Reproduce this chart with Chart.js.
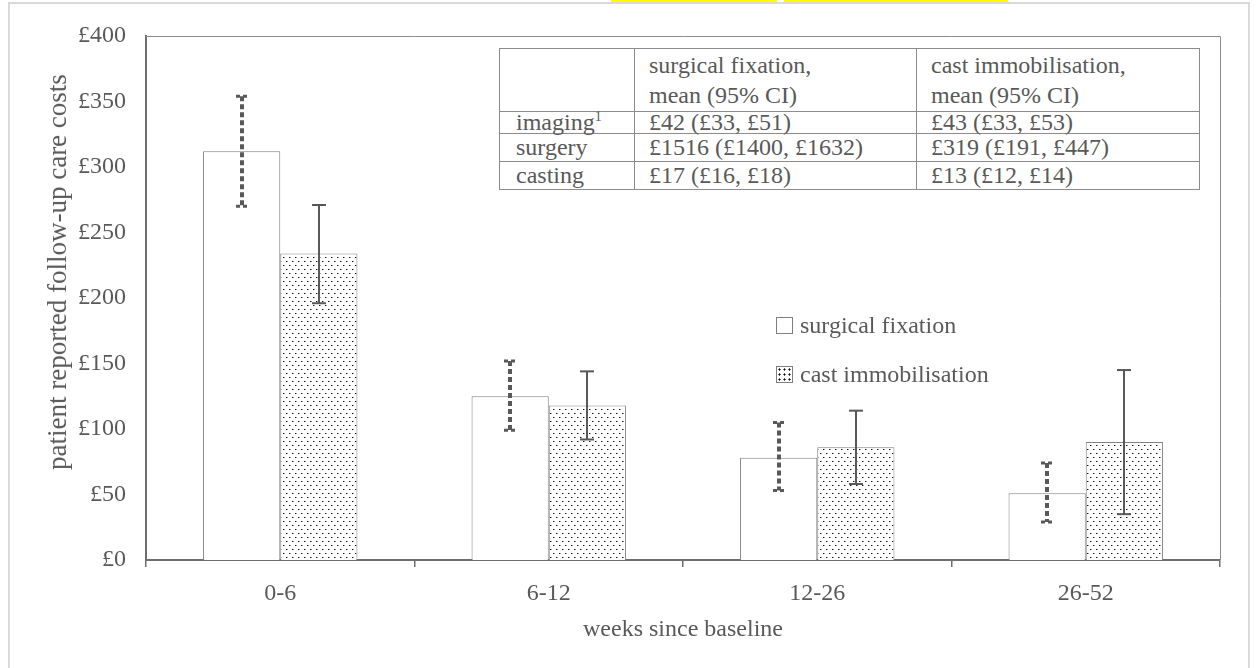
<!DOCTYPE html>
<html>
<head>
<meta charset="utf-8">
<script src="https://cdn.jsdelivr.net/npm/chart.js@4.4.0/dist/chart.umd.min.js"></script>
<style>
  body { margin: 0; width: 1258px; height: 668px; overflow: hidden; position: relative; background: #fff;
         font-family: "Liberation Serif", "Times New Roman", serif; color: #595959; }
  #frame { position: absolute; left: 8px; top: 2px; width: 1242px; height: 720px; border: 2px solid #d9d9d9; box-sizing: border-box; }
  .hl { position: absolute; top: 0; height: 2px; background: #ffff00; }
  #chart { position: absolute; left: 0; top: 0; }
  #ytitle { position: absolute; left: 57px; top: 272px; font-size: 27px; line-height: 30px; white-space: nowrap;
            transform: translate(-50%, -50%) rotate(-90deg); }
  table.costs { position: absolute; left: 499px; top: 48px; border-collapse: collapse; table-layout: fixed;
                font-size: 24px; color: #595959; background: #fff; }
  table.costs td { border: 1.5px solid #8c8c8c; padding: 0 0 0 14px; white-space: nowrap; vertical-align: middle; }
  table.costs td:first-child { padding-left: 16px; }
  table.costs tr.head td { height: 62px; line-height: 30px; padding-top: 0; }
  table.costs tr.r1 td { height: 21px; line-height: 21px; }
  table.costs tr.r2 td, table.costs tr.r3 td { height: 27px; line-height: 27px; }
  sup { font-size: 14px; line-height: 0; vertical-align: 9px; }
  .legend { position: absolute; left: 776px; font-size: 24px; line-height: 28px; white-space: nowrap; }
  .legend span.box { display: inline-block; width: 15px; height: 15px; border: 1px solid #7f7f7f; margin-right: 7px; vertical-align: -1px; background: #fff; }
  .legend span.dots { background-image: radial-gradient(circle, #111 0.9px, transparent 1.2px); background-size: 5px 5px; background-position: 0 0; }
</style>
</head>
<body>
<div class="hl" style="left:611px;width:166px"></div>
<div class="hl" style="left:784px;width:224px"></div>
<div id="frame"></div>
<canvas id="chart" width="1258" height="668"></canvas>
<div id="ytitle">patient reported follow-up care costs</div>

<table class="costs">
  <colgroup><col style="width:135px"><col style="width:282px"><col style="width:283px"></colgroup>
  <tr class="head"><td></td><td>surgical fixation,<br>mean (95% CI)</td><td>cast immobilisation,<br>mean (95% CI)</td></tr>
  <tr class="r1"><td>imaging<sup>1</sup></td><td>£42 (£33, £51)</td><td>£43 (£33, £53)</td></tr>
  <tr class="r2"><td>surgery</td><td>£1516 (£1400, £1632)</td><td>£319 (£191, £447)</td></tr>
  <tr class="r3"><td>casting</td><td>£17 (£16, £18)</td><td>£13 (£12, £14)</td></tr>
</table>

<div class="legend" style="top:311px"><span class="box"></span>surgical fixation</div>
<div class="legend" style="top:360px"><span class="box dots"></span>cast immobilisation</div>

<script>
// ---------- DATA ----------
const categories = ["0-6", "6-12", "12-26", "26-52"];
const seriesNames = ["surgical fixation", "cast immobilisation"];
const surgicalMean = [312, 125, 78, 51];
const surgicalLow = [270, 99, 53, 29];
const surgicalHigh = [354, 152, 105, 74];
const castMean = [234, 118, 86, 90];
const castLow = [196, 92, 58, 35];
const castHigh = [271, 144, 114, 145];
const yTicks = [0, 50, 100, 150, 200, 250, 300, 350, 400];

const GREY = "#595959";
const FONT = "'Liberation Serif', 'Times New Roman', serif";

// ---------- DOT PATTERN FOR CAST BARS ----------
function dotPattern() {
  const c = document.createElement("canvas");
  c.width = 6;
  c.height = 8;
  const g = c.getContext("2d");
  g.fillStyle = "#fff";
  g.fillRect(0, 0, 6, 8);
  g.fillStyle = "#111";
  g.fillRect(1, 1, 1, 1);
  g.fillRect(4, 5, 1, 1);
  g.fillStyle = "#9a9a9a";
  g.fillRect(2, 1, 1, 1);
  g.fillRect(5, 5, 1, 1);
  return g.createPattern(c, "repeat");
}

// ---------- ERROR BARS ----------
const errorBars = {
  id: "errorBars",
  afterDatasetsDraw(chart) {
    const ctx = chart.ctx;
    const y = chart.scales.y;
    const ranges = [[surgicalLow, surgicalHigh], [castLow, castHigh]];
    const seg = (x1, y1, x2, y2) => {
      ctx.beginPath();
      ctx.moveTo(x1, y1);
      ctx.lineTo(x2, y2);
      ctx.stroke();
    };
    chart.data.datasets.forEach((ds, i) => {
      chart.getDatasetMeta(i).data.forEach((bar, j) => {
        const x = Math.round(bar.x);
        const yl = y.getPixelForValue(ranges[i][0][j]);
        const yh = y.getPixelForValue(ranges[i][1][j]);
        ctx.save();
        ctx.strokeStyle = GREY;
        if (i === 0) {
          ctx.lineWidth = 4;
          ctx.setLineDash([5, 3]);
          seg(x, yh, x, yl);
          ctx.lineWidth = 3;
          ctx.setLineDash([4, 3]);
          seg(x - 6, yh, x + 7, yh);
          seg(x - 6, yl, x + 7, yl);
        } else {
          ctx.lineWidth = 2;
          seg(x, yh, x, yl);
          seg(x - 7, yh, x + 7, yh);
          seg(x - 7, yl, x + 7, yl);
        }
        ctx.restore();
      });
    });
  },
};

// top and right edge of the plot box
const plotBox = {
  id: "plotBox",
  afterDraw(chart) {
    const { ctx, chartArea: a } = chart;
    ctx.save();
    ctx.strokeStyle = "#8c8c8c";
    ctx.lineWidth = 1;
    ctx.beginPath();
    ctx.moveTo(a.left, a.top + 0.5);
    ctx.lineTo(a.right + 0.5, a.top + 0.5);
    ctx.lineTo(a.right + 0.5, a.bottom);
    ctx.stroke();
    ctx.restore();
  },
};

// ---------- CHART ----------
new Chart(document.getElementById("chart"), {
  type: "bar",
  data: {
    labels: categories,
    datasets: [
      {
        label: seriesNames[0],
        data: surgicalMean,
        backgroundColor: "#fff",
        borderColor: "#808080",
        borderWidth: 1,
      },
      {
        label: seriesNames[1],
        data: castMean,
        backgroundColor: dotPattern(),
        borderColor: "#808080",
        borderWidth: 1,
      },
    ],
  },
  options: {
    responsive: false,
    animation: false,
    devicePixelRatio: 1,
    layout: { padding: { left: 0, top: 36, right: 38, bottom: 0 } },
    datasets: { bar: { categoryPercentage: 0.575, barPercentage: 1 } },
    plugins: { legend: { display: false }, tooltip: { enabled: false } },
    scales: {
      x: {
        afterFit: (s) => { s.height = 108; },
        grid: { display: true, drawOnChartArea: false, drawTicks: true, tickLength: 7, color: "#6f6f6f", lineWidth: 1.5 },
        border: { display: true, color: "#6f6f6f", width: 2 },
        ticks: { color: GREY, font: { family: FONT, size: 24 }, padding: 12 },
        title: { display: true, text: "weeks since baseline", color: GREY, font: { family: FONT, size: 24 }, padding: { top: 0, bottom: 24 } },
      },
      y: {
        min: 0,
        max: 400,
        afterFit: (s) => { s.width = 146; },
        afterBuildTicks: (s) => { s.ticks = yTicks.map((v) => ({ value: v })); },
        grid: { display: false, drawTicks: false },
        border: { display: true, color: "#6f6f6f", width: 2 },
        ticks: { color: GREY, font: { family: FONT, size: 24 }, padding: 20, callback: (v) => "£" + v },
      },
    },
  },
  plugins: [errorBars, plotBox],
});
</script>
</body>
</html>
